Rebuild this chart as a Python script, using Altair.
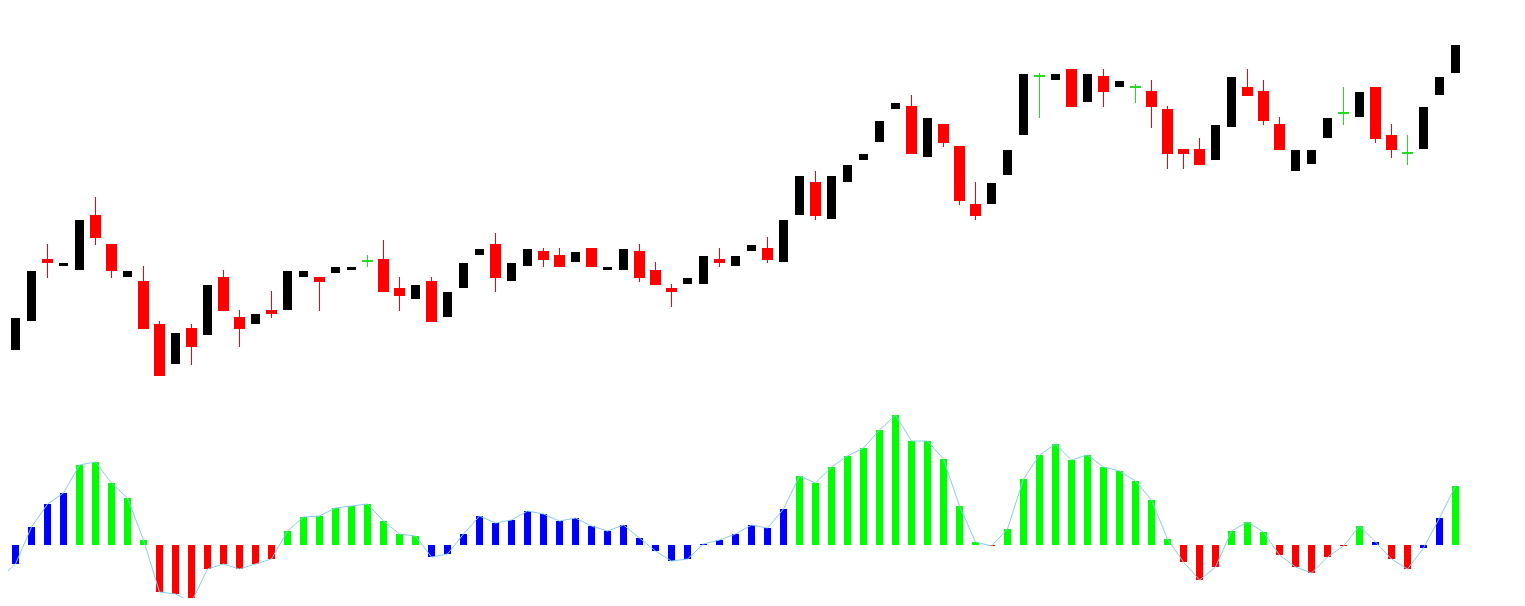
import altair as alt
import pandas as pd

# ---- price candles ----
opens = [50, 50, 79, 141, 134, 130, 185, 156, 123, 119, 76, 36, 72, 65, 123, 83, 76, 90, 90, 123,
         123, 127, 130, 139, 141, 112, 101, 119, 83, 112, 145, 156, 119, 134, 149, 145, 138, 152, 130, 130,
         149, 130, 112, 116, 116, 141, 134, 149, 152, 138, 185, 218, 181, 218, 240, 258, 291, 294, 243, 276,
         254, 196, 196, 225, 265, 324, 320, 331, 298, 324, 313, 313, 309, 291, 251, 251, 240, 273, 313, 309,
         276, 229, 236, 262, 287, 283, 313, 265, 247, 251, 305, 327]
closes = [53, 82, 129, 137, 137, 180, 162, 129, 129, 71, 24, 67, 53, 115, 89, 71, 86, 86, 129, 129,
          118, 133, 133, 139, 108, 104, 115, 78, 108, 137, 151, 122, 137, 151, 140, 133, 148, 133, 133, 151,
          122, 115, 108, 122, 144, 137, 144, 155, 140, 180, 224, 184, 224, 235, 246, 279, 297, 246, 282, 257,
          199, 184, 217, 250, 326, 324, 326, 293, 326, 308, 319, 313, 293, 246, 246, 235, 275, 323, 304, 279,
          250, 250, 250, 282, 287, 308, 261, 250, 247, 293, 323, 355]
highs = [53, 82, 129, 156, 137, 180, 203, 156, 129, 134, 79, 67, 76, 115, 130, 90, 86, 109, 129, 129,
         123, 133, 133, 145, 160, 123, 115, 123, 108, 137, 151, 167, 137, 151, 152, 152, 148, 152, 133, 151,
         156, 138, 116, 122, 144, 152, 144, 155, 163, 180, 224, 229, 224, 235, 246, 279, 297, 305, 282, 276,
         254, 218, 217, 250, 326, 327, 326, 331, 326, 331, 319, 316, 320, 294, 251, 262, 275, 323, 331, 320,
         283, 250, 250, 282, 313, 308, 313, 276, 265, 293, 323, 355]
lows = [50, 50, 79, 122, 134, 130, 155, 122, 123, 71, 24, 36, 35, 65, 89, 53, 76, 82, 90, 123,
        89, 127, 130, 133, 108, 89, 101, 78, 83, 112, 145, 108, 119, 134, 133, 133, 138, 133, 130, 130,
        118, 115, 93, 116, 116, 133, 134, 149, 137, 138, 185, 180, 181, 218, 240, 258, 291, 246, 243, 253,
        195, 180, 196, 225, 265, 282, 320, 293, 298, 293, 313, 297, 272, 231, 231, 235, 240, 273, 304, 275,
        250, 229, 236, 262, 275, 283, 257, 242, 235, 251, 305, 327]

# ---- oscillator histogram ----
osc = [-34, -19, 18, 41, 52, 80, 83, 62, 47, 5, -47, -49, -57, -24, -19, -24, -19, -14, 14, 28,
       29, 37, 39, 41, 24, 11, 9, -12, -9, 11, 29, 22, 25, 34, 31, 24, 27, 19, 14, 20,
       7, -6, -16, -14, 1, 5, 11, 20, 17, 36, 69, 62, 78, 89, 97, 115, 130, 104, 104, 86,
       39, 3, -1, 16, 66, 90, 101, 85, 90, 78, 74, 64, 45, 6, -17, -35, -22, 14, 23, 13,
       -10, -22, -28, -12, -1, 19, 3, -14, -24, -3, 27, 59]
osc_state = (["neutral"] * 5 + ["rising"] * 5 + ["falling"] * 8 + ["rising"] * 9 + ["neutral"] * 23
             + ["rising"] * 12 + ["falling"] + ["rising"] * 11 + ["falling"] * 3 + ["rising"] * 3
             + ["falling"] * 5 + ["rising"] + ["neutral"] + ["falling"] * 2 + ["neutral"] * 2 + ["rising"])

n = len(opens)
idx = list(range(n))
kind = ["up" if c > o else ("down" if c < o else "doji") for o, c in zip(opens, closes)]

candles = pd.DataFrame({"i": idx, "open": opens, "high": highs, "low": lows,
                        "close": closes, "kind": kind})
hist = pd.DataFrame({"i": idx, "v": osc, "state": osc_state, "zero": [0] * n})

W, H = 1509, 590
x0 = 0.53125
xs = alt.Scale(domain=[x0, x0 + W / 16], nice=False, zero=False, padding=0)
ys_price = alt.Scale(domain=[392 - H, 392], nice=False, zero=False, padding=0)
ys_osc = alt.Scale(domain=[537 - H, 537], nice=False, zero=False, padding=0)

ccol = alt.Color("kind:N", scale=alt.Scale(domain=["up", "down", "doji"],
                                           range=["#000000", "#ff0000", "#22dd22"]), legend=None)
hcol = alt.Color("state:N", scale=alt.Scale(domain=["rising", "falling", "neutral"],
                                            range=["#00ff00", "#ff0000", "#0000ff"]), legend=None)

base_c = alt.Chart(candles)

wicks = base_c.transform_filter("datum.kind != 'up'").mark_rule(strokeWidth=1, clip=True).encode(
    x=alt.X("i:Q", scale=xs, axis=None),
    y=alt.Y("high:Q", scale=ys_price, axis=None),
    y2="low:Q",
    color=ccol,
)

bodies = base_c.transform_filter("datum.kind != 'doji'").transform_calculate(
    hw="datum.kind == 'down' ? 5.5/16 : 4.5/16"
).transform_calculate(
    xl="datum.i - datum.hw", xr="datum.i + datum.hw"
).mark_rect(clip=True).encode(
    x=alt.X("xl:Q", scale=xs, axis=None),
    x2="xr:Q",
    y=alt.Y("open:Q", scale=ys_price, axis=None),
    y2="close:Q",
    color=ccol,
)

doji = base_c.transform_filter("datum.kind == 'doji'").transform_calculate(
    xl="datum.i - 5.5/16", xr="datum.i + 5.5/16"
).mark_rule(strokeWidth=2, clip=True).encode(
    x=alt.X("xl:Q", scale=xs, axis=None),
    x2="xr:Q",
    y=alt.Y("close:Q", scale=ys_price, axis=None),
    color=ccol,
)

base_h = alt.Chart(hist)
bars = base_h.mark_bar(size=7, clip=True).encode(
    x=alt.X("i:Q", scale=xs, axis=None),
    y=alt.Y("v:Q", scale=ys_osc, axis=None),
    y2="zero:Q",
    color=hcol,
)
line = base_h.mark_line(color="#87ceeb", strokeWidth=1, clip=True).encode(
    x=alt.X("i:Q", scale=xs, axis=None),
    y=alt.Y("v:Q", scale=ys_osc, axis=None),
)

chart = alt.layer(bars, line, wicks, bodies, doji).resolve_scale(
    y="independent", color="independent"
).properties(
    width=W, height=H, padding=0, background="white"
).configure_view(stroke=None)

chart.save("out.html", embed_options={"renderer": "svg", "actions": False})
